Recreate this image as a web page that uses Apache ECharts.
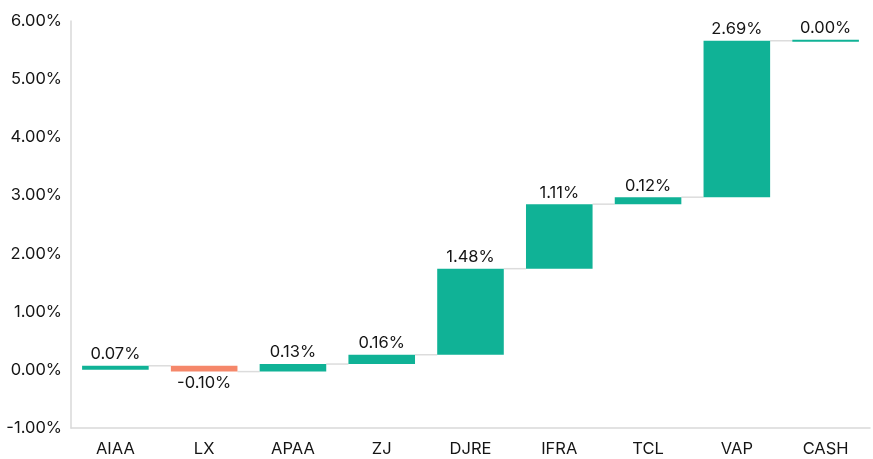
<!DOCTYPE html>
<html>
<head>
<meta charset="utf-8">
<script src="https://cdn.jsdelivr.net/npm/echarts@6/dist/echarts.min.js"></script>
<style>html,body{margin:0;padding:0;background:#fff}#c{width:873px;height:459px}</style>
</head>
<body>
<div id="c"></div>
<script>
const categories = ['AIAA', 'LX', 'APAA', 'ZJ', 'DJRE', 'IFRA', 'TCL', 'VAP', 'CASH'];
const changes = [0.07, -0.10, 0.13, 0.16, 1.48, 1.11, 0.12, 2.69, 0.00];
const yTicks = { min: -1, max: 6, interval: 1 };

const GREEN = '#10B296';
const ORANGE = '#F5876A';
const TEXT = '#151515';
const FONT = 'Inter';
const FS = 16.5;

// waterfall ranges
const barData = [];
const connData = [];
let cum = 0;
changes.forEach((c, i) => {
  const start = cum;
  cum = Math.round((cum + c) * 100) / 100;
  barData.push([i, start, cum, c]);
  if (i < changes.length - 1) connData.push([i, cum]);
});

const chart = echarts.init(document.getElementById('c'));
chart.setOption({
  animation: false,
  grid: { left: 71, right: 3, top: 21, bottom: 31, containLabel: false },
  xAxis: {
    type: 'category',
    data: categories,
    axisLine: { onZero: false, lineStyle: { color: '#d9d9d9', width: 1.5 } },
    axisTick: { show: false },
    axisLabel: { color: TEXT, fontFamily: FONT, fontSize: FS, margin: 13 },
    splitLine: { show: false }
  },
  yAxis: {
    type: 'value',
    min: yTicks.min, max: yTicks.max, interval: yTicks.interval,
    axisLine: { show: true, lineStyle: { color: '#d9d9d9', width: 1.5 } },
    axisTick: { show: false },
    splitLine: { show: false },
    axisLabel: { color: TEXT, fontFamily: FONT, fontSize: FS, margin: 9,
      formatter: v => v.toFixed(2) + '%' }
  },
  series: [
    {
      type: 'custom',
      data: connData,
      encode: { x: 0, y: 1 },
      z: 1,
      renderItem: (params, api) => {
        const i = api.value(0);
        const v = api.value(1);
        const w = api.size([1, 0])[0];
        const bw = w * 0.75;
        const p1 = api.coord([i, v]);
        const p2 = api.coord([i + 1, v]);
        return {
          type: 'line',
          shape: { x1: p1[0] + bw / 2, y1: p1[1], x2: p2[0] - bw / 2, y2: p2[1] },
          style: { stroke: '#dcdcdc', lineWidth: 1.5 }
        };
      }
    },
    {
      type: 'custom',
      data: barData,
      encode: { x: 0, y: [1, 2] },
      z: 2,
      renderItem: (params, api) => {
        const i = api.value(0);
        const s = api.value(1);
        const e = api.value(2);
        const c = api.value(3);
        const w = api.size([1, 0])[0];
        const bw = w * 0.75;
        const ps = api.coord([i, s]);
        const pe = api.coord([i, e]);
        let top = Math.min(ps[1], pe[1]);
        let h = Math.abs(ps[1] - pe[1]);
        if (h < 2) { top = pe[1] - 1; h = 2; }
        const neg = c < 0;
        const labelY = neg ? top + h + 3 : top - 3;
        return {
          type: 'group',
          children: [
            {
              type: 'rect',
              shape: { x: ps[0] - bw / 2, y: top, width: bw, height: h },
              style: { fill: neg ? ORANGE : GREEN }
            },
            {
              type: 'text',
              style: {
                text: c.toFixed(2) + '%',
                x: ps[0], y: labelY,
                align: 'center',
                verticalAlign: neg ? 'top' : 'bottom',
                fill: TEXT, font: FS + 'px ' + FONT
              }
            }
          ]
        };
      }
    }
  ]
});
</script>
</body>
</html>
